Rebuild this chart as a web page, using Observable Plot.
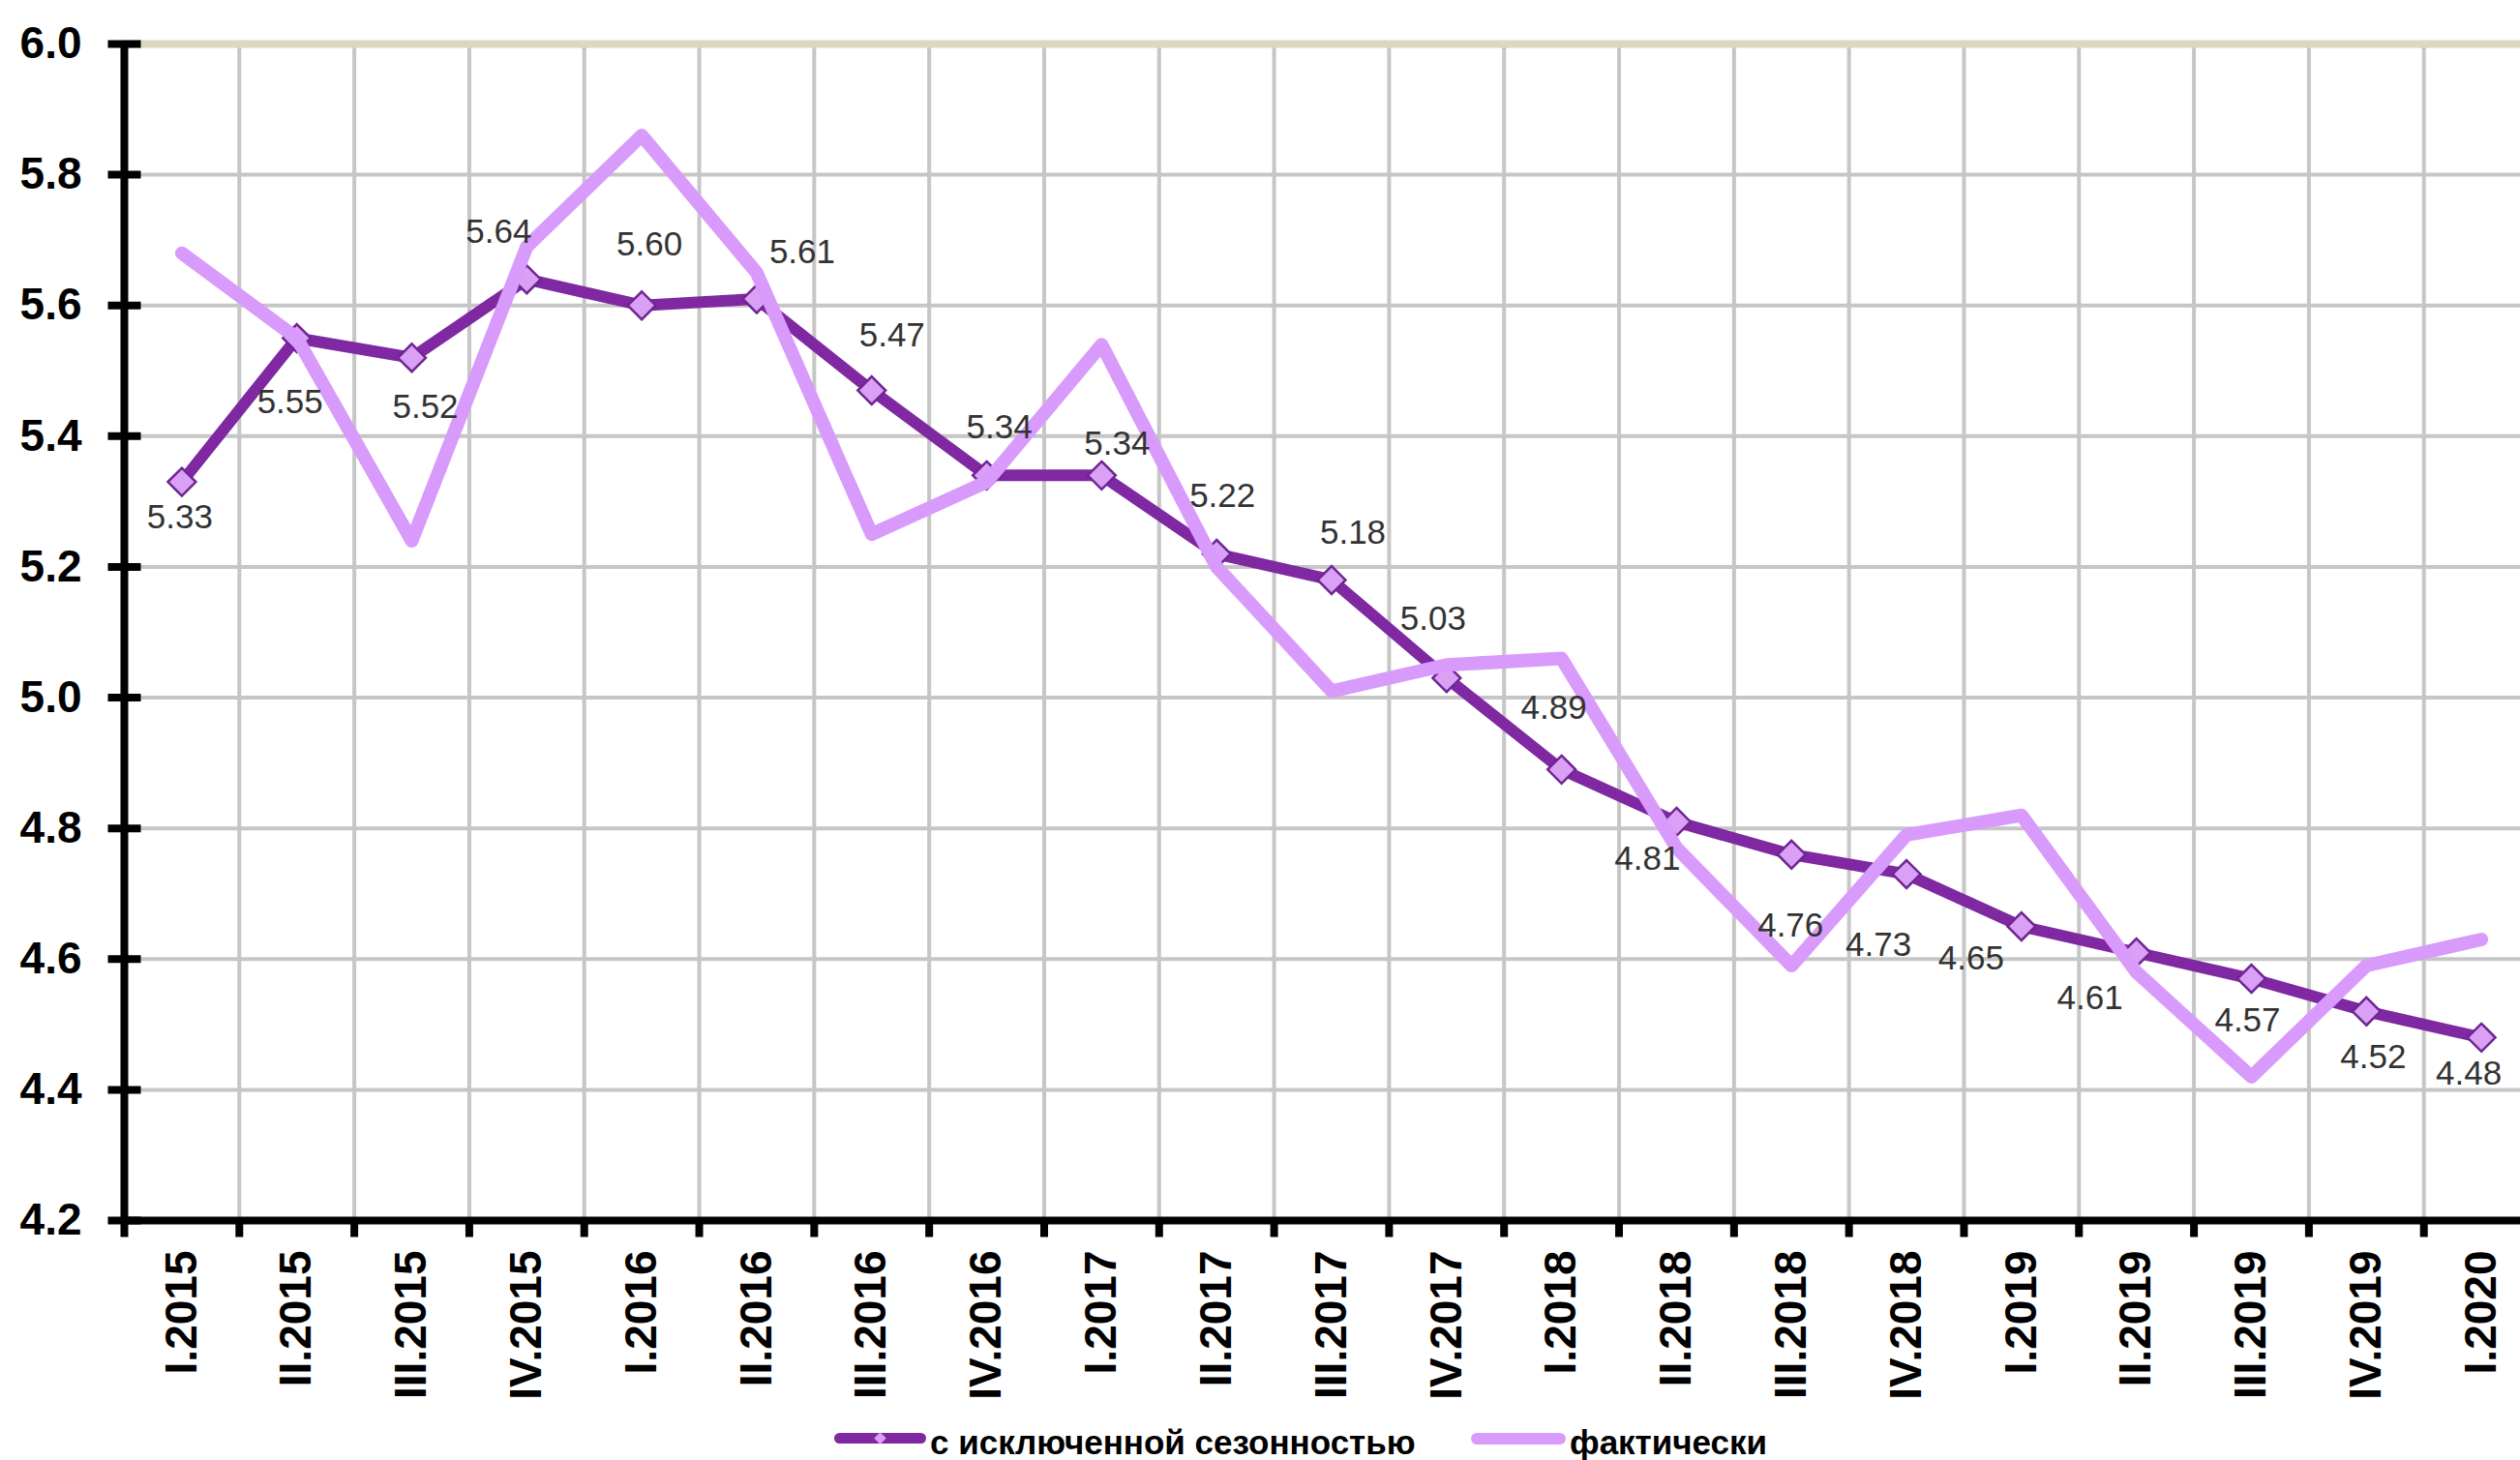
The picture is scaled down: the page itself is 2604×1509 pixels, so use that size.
<!DOCTYPE html>
<html>
<head>
<meta charset="utf-8">
<script src="https://cdn.jsdelivr.net/npm/d3@7"></script>
<script src="https://cdn.jsdelivr.net/npm/@observablehq/plot@0.6"></script>
<style>
  html, body { margin: 0; padding: 0; background: #fff; }
  #chart svg { display: block; }
  #legend { position: relative; width: 2604px; height: 47px; font-family: "Liberation Sans", Arial, sans-serif; }
  #legend .sw { position: absolute; }
  #legend .tx { position: absolute; font-size: 35px; line-height: 35px; font-weight: bold; color: #000; white-space: nowrap; }
</style>
</head>
<body>
<div id="chart"></div>
<div id="legend"></div>
<script>
// ---- data ----
const categories = ["I.2015","II.2015","III.2015","IV.2015","I.2016","II.2016","III.2016","IV.2016",
  "I.2017","II.2017","III.2017","IV.2017","I.2018","II.2018","III.2018","IV.2018",
  "I.2019","II.2019","III.2019","IV.2019","I.2020"];
// с исключенной сезонностью
const seasonallyAdjusted = [5.33,5.55,5.52,5.64,5.60,5.61,5.47,5.34,5.34,5.22,5.18,5.03,
  4.89,4.81,4.76,4.73,4.65,4.61,4.57,4.52,4.48];
// фактически
const actual = [5.68,5.55,5.24,5.69,5.86,5.65,5.25,5.33,5.54,5.20,5.01,5.05,
  5.06,4.77,4.59,4.79,4.82,4.58,4.42,4.59,4.63];
const yTicks = [4.2,4.4,4.6,4.8,5.0,5.2,5.4,5.6,5.8,6.0];
const seriesNames = ["с исключенной сезонностью", "фактически"];

// ---- label placement (pixel nudges of each value label) ----
const labelNudge = [[-2,37],[-7,66],[14,51],[-29,-49],[8,-63],[47,-48],[21,-57],[13,-50],
  [16,-33],[6,-60],[22,-49],[-14,-61],[-8,-64],[-30,38],[-1,74],[-29,73],
  [-52,33],[-48,47],[-4,43],[7,47],[-13,37]];

const colors = { adjusted: "#7f28a2", actual: "#d99bfb", markerFill: "#d9a0f5", markerStroke: "#6f2592" };
const FONT = '"Liberation Sans", Arial, sans-serif';

const idx = categories.map((_, i) => i);
const boundaries = d3.range(-0.5, categories.length, 1);            // band edges
const innerBoundaries = boundaries.filter(b => b > 0);             // vertical gridlines
const fmt2 = d3.format(".2f");

const hTick = { draw(ctx, size) { const l = Math.sqrt(size); ctx.moveTo(-l, 0); ctx.lineTo(l, 0); } };
const vTick = { draw(ctx, size) { const l = Math.sqrt(size); ctx.moveTo(0, 0); ctx.lineTo(0, l); } };

const labelMarks = labelNudge.map((n, i) =>
  Plot.text([i], {
    x: d => d, y: d => seasonallyAdjusted[d], text: d => fmt2(seasonallyAdjusted[d]),
    dx: n[0], dy: n[1], fontSize: 35, fill: "#333", lineAnchor: "middle", textAnchor: "middle"
  })
);

const chart = Plot.plot({
  width: 2604,
  height: 1462,
  marginLeft: 128,
  marginRight: 0,
  marginTop: 45,
  marginBottom: 201,
  style: { fontFamily: FONT, fontSize: "46px", color: "#000", background: "#fff", overflow: "visible" },
  x: { domain: [-0.5, 20.34], axis: null },
  y: { domain: [4.2, 6.0], axis: null },
  marks: [
    // grid
    Plot.ruleY(yTicks.filter(t => t > 4.2 && t < 6.0), { stroke: "#c6c6c6", strokeWidth: 4 }),
    Plot.ruleX(innerBoundaries, { stroke: "#c6c6c6", strokeWidth: 4 }),
    Plot.ruleY([6.0], { stroke: "#ddd7bf", strokeWidth: 8 }),
    // axes lines
    Plot.ruleY([4.2], { stroke: "#000", strokeWidth: 8 }),
    Plot.ruleX([-0.5], { stroke: "#000", strokeWidth: 8 }),
    // ticks
    Plot.dot(yTicks, { x: () => -0.5, y: d => d, symbol: hTick, r: 9.6, fill: "none", stroke: "#000", strokeWidth: 8 }),
    Plot.dot(boundaries, { x: d => d, y: () => 4.2, symbol: vTick, r: 9.6, fill: "none", stroke: "#000", strokeWidth: 8 }),
    // series
    Plot.line(idx, { x: d => d, y: d => seasonallyAdjusted[d], stroke: colors.adjusted, strokeWidth: 12,
      strokeLinejoin: "round", strokeLinecap: "round" }),
    Plot.dot(idx, { x: d => d, y: d => seasonallyAdjusted[d], symbol: "diamond2", r: 13,
      fill: colors.markerFill, stroke: colors.markerStroke, strokeWidth: 2.5 }),
    Plot.line(idx, { x: d => d, y: d => actual[d], stroke: colors.actual, strokeWidth: 14,
      strokeLinejoin: "round", strokeLinecap: "round" }),
    // value labels
    ...labelMarks,
    // y tick labels
    Plot.axisY({ ticks: yTicks, tickSize: 0, tickPadding: 44, tickFormat: d3.format(".1f"),
      fontSize: 46, fontWeight: "bold", fill: "#000" }),
    // x tick labels
    Plot.text(idx, { x: d => d, text: d => categories[d], frameAnchor: "bottom", dy: 31, rotate: -90,
      textAnchor: "end", lineAnchor: "middle", fontSize: 46, fontWeight: "bold", fill: "#000" })
  ]
});
document.getElementById("chart").appendChild(chart);

// ---- legend ----
const legend = document.getElementById("legend");
legend.innerHTML = `
  <div class="sw" style="left:862px;top:19px;width:95px;height:11px;background:${colors.adjusted};border-radius:5.5px;"></div>
  <div class="sw" style="left:904px;top:19px;width:11px;height:11px;background:${colors.markerFill};transform:rotate(45deg) scale(0.8);"></div>
  <div class="tx" style="left:961px;top:11px;">${seriesNames[0]}</div>
  <div class="sw" style="left:1520px;top:19px;width:98px;height:12px;background:${colors.actual};border-radius:6px;"></div>
  <div class="tx" style="left:1622px;top:11px;">${seriesNames[1]}</div>
`;
</script>
</body>
</html>
